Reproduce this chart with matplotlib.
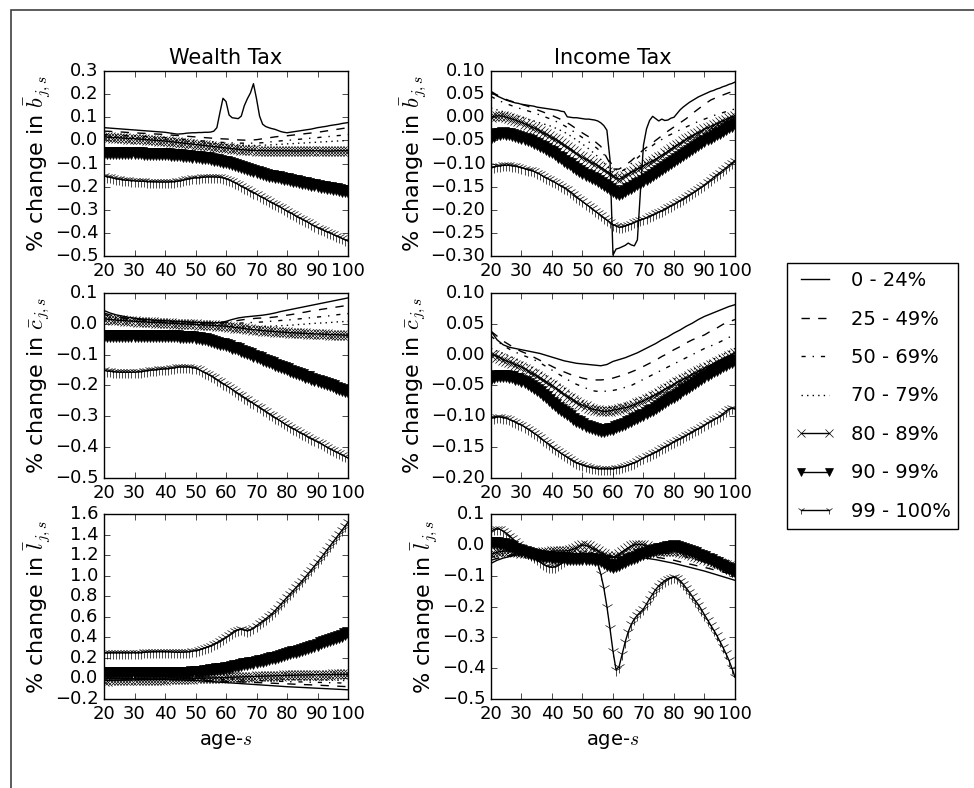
import numpy as np
import matplotlib
matplotlib.use("Agg")
import matplotlib.pyplot as plt
from matplotlib.patches import Rectangle
from matplotlib.lines import Line2D

plt.style.use("classic")

# ages: yearly for the marked series, every second year for the plain lines
ages = np.arange(20, 101)
ages_2 = np.arange(20, 101, 2)

labels = ["0 - 24%", "25 - 49%", "50 - 69%", "70 - 79%",
          "80 - 89%", "90 - 99%", "99 - 100%"]

# ---------------- wealth tax, savings b ----------------
wb_0 = [0.055, 0.054, 0.053, 0.052, 0.051, 0.050, 0.049, 0.048, 0.047, 0.046,
        0.045, 0.044, 0.043, 0.042, 0.041, 0.040, 0.039, 0.038, 0.037, 0.036,
        0.035, 0.033, 0.031, 0.029, 0.027, 0.028, 0.029, 0.031, 0.032, 0.033,
        0.033, 0.034, 0.034, 0.035, 0.035, 0.036, 0.040, 0.055, 0.120, 0.182,
        0.168, 0.110, 0.098, 0.096, 0.094, 0.105, 0.150, 0.180, 0.205, 0.245,
        0.180, 0.105, 0.070, 0.060, 0.055, 0.051, 0.048, 0.043, 0.038, 0.035,
        0.033, 0.035, 0.037, 0.039, 0.041, 0.043, 0.045, 0.047, 0.049, 0.052,
        0.055, 0.057, 0.059, 0.061, 0.064, 0.066, 0.068, 0.070, 0.073, 0.075, 0.077]
wb_25 = [0.040, 0.039, 0.037, 0.036, 0.034, 0.033, 0.031, 0.030, 0.028, 0.027,
         0.025, 0.023, 0.021, 0.019, 0.017, 0.015, 0.013, 0.011, 0.009, 0.007,
         0.006, 0.004, 0.002, 0.001, 0.001, 0.003, 0.007, 0.011, 0.015, 0.018,
         0.020, 0.023, 0.026, 0.029, 0.032, 0.035, 0.039, 0.043, 0.047, 0.051, 0.055]
wb_50 = [0.025, 0.024, 0.023, 0.022, 0.021, 0.020, 0.018, 0.017, 0.015, 0.014,
         0.012, 0.010, 0.007, 0.005, 0.002, 0.000, -0.002, -0.004, -0.006, -0.008,
         -0.010, -0.011, -0.012, -0.012, -0.012, -0.012, -0.010, -0.007, -0.005, -0.002,
         0.000, 0.002, 0.005, 0.007, 0.010, 0.012, 0.015, 0.017, 0.020, 0.022, 0.025]
wb_70 = [0.020, 0.018, 0.017, 0.015, 0.014, 0.012, 0.011, 0.009, 0.008, 0.006,
         0.005, 0.002, -0.001, -0.003, -0.006, -0.008, -0.010, -0.012, -0.014, -0.016,
         -0.018, -0.019, -0.020, -0.021, -0.022, -0.022, -0.021, -0.020, -0.018, -0.017,
         -0.015, -0.014, -0.012, -0.011, -0.009, -0.008, -0.006, -0.005, -0.003, -0.002, 0.000]
wb_80 = [0.015, 0.014, 0.013, 0.012, 0.012, 0.011, 0.010, 0.009, 0.008, 0.008,
         0.007, 0.006, 0.005, 0.004, 0.003, 0.002, 0.001, 0.000, -0.001, -0.002,
         -0.003, -0.004, -0.006, -0.007, -0.009, -0.010, -0.012, -0.013, -0.015, -0.016,
         -0.018, -0.019, -0.021, -0.022, -0.024, -0.025, -0.027, -0.028, -0.030, -0.031,
         -0.033, -0.034, -0.036, -0.037, -0.039, -0.040, -0.041, -0.042, -0.043, -0.043,
         -0.044, -0.044, -0.044, -0.045, -0.045, -0.045, -0.045, -0.045, -0.045, -0.045,
         -0.045, -0.045, -0.046, -0.046, -0.046, -0.045, -0.045, -0.045, -0.045, -0.045,
         -0.045, -0.045, -0.046, -0.046, -0.046, -0.046, -0.045, -0.045, -0.045, -0.045, -0.045]
wb_90 = [-0.053, -0.053, -0.053, -0.054, -0.054, -0.054, -0.054, -0.055, -0.055, -0.055,
         -0.055, -0.056, -0.056, -0.057, -0.057, -0.058, -0.058, -0.059, -0.059, -0.060,
         -0.060, -0.061, -0.062, -0.063, -0.064, -0.065, -0.066, -0.068, -0.069, -0.070,
         -0.072, -0.073, -0.075, -0.076, -0.078, -0.080, -0.083, -0.086, -0.089, -0.092,
         -0.095, -0.099, -0.103, -0.107, -0.111, -0.115, -0.120, -0.124, -0.129, -0.133,
         -0.138, -0.141, -0.145, -0.148, -0.152, -0.155, -0.158, -0.160, -0.163, -0.165,
         -0.168, -0.171, -0.174, -0.177, -0.180, -0.183, -0.186, -0.188, -0.191, -0.194,
         -0.197, -0.200, -0.202, -0.205, -0.207, -0.210, -0.212, -0.215, -0.217, -0.220, -0.222]
wb_99 = [-0.154, -0.157, -0.160, -0.163, -0.166, -0.168, -0.170, -0.172, -0.173, -0.174,
         -0.175, -0.176, -0.177, -0.177, -0.178, -0.178, -0.179, -0.179, -0.180, -0.180,
         -0.180, -0.180, -0.179, -0.178, -0.177, -0.175, -0.172, -0.169, -0.166, -0.164,
         -0.162, -0.161, -0.160, -0.159, -0.158, -0.158, -0.158, -0.159, -0.160, -0.162,
         -0.166, -0.171, -0.177, -0.183, -0.190, -0.197, -0.204, -0.211, -0.218, -0.226,
         -0.233, -0.240, -0.247, -0.254, -0.262, -0.269, -0.276, -0.283, -0.290, -0.298,
         -0.305, -0.312, -0.319, -0.327, -0.334, -0.341, -0.348, -0.355, -0.363, -0.370,
         -0.377, -0.383, -0.389, -0.395, -0.400, -0.406, -0.412, -0.418, -0.424, -0.429, -0.435]

# ---------------- income tax, savings b ----------------
ib_0 = [0.054, 0.050, 0.046, 0.043, 0.040, 0.037, 0.035, 0.033, 0.031, 0.030,
        0.028, 0.027, 0.026, 0.025, 0.024, 0.022, 0.021, 0.020, 0.019, 0.018,
        0.017, 0.016, 0.015, 0.013, 0.012, 0.001, 0.000, -0.001, -0.001, -0.002,
        -0.003, -0.004, -0.004, -0.005, -0.006, -0.008, -0.012, -0.018, -0.028, -0.090,
        -0.298, -0.285, -0.283, -0.280, -0.277, -0.272, -0.276, -0.278, -0.265, -0.160,
        -0.060, -0.025, -0.007, 0.002, -0.003, -0.008, -0.004, -0.007, -0.006, -0.002,
        0.000, 0.008, 0.016, 0.022, 0.027, 0.032, 0.036, 0.040, 0.044, 0.047,
        0.050, 0.053, 0.056, 0.058, 0.061, 0.063, 0.066, 0.068, 0.071, 0.073, 0.076]
ib_25 = [0.056, 0.048, 0.041, 0.036, 0.032, 0.028, 0.024, 0.019, 0.014, 0.009,
         0.004, -0.002, -0.008, -0.016, -0.025, -0.034, -0.042, -0.052, -0.063, -0.088,
         -0.112, -0.112, -0.104, -0.094, -0.082, -0.070, -0.060, -0.050, -0.040, -0.030,
         -0.021, -0.012, -0.003, 0.008, 0.018, 0.028, 0.037, 0.043, 0.048, 0.053, 0.057]
ib_50 = [0.045, 0.038, 0.032, 0.027, 0.022, 0.018, 0.014, 0.010, 0.005, 0.000,
         -0.005, -0.011, -0.018, -0.026, -0.035, -0.044, -0.053, -0.063, -0.074, -0.087,
         -0.105, -0.120, -0.112, -0.100, -0.088, -0.076, -0.066, -0.056, -0.048, -0.040,
         -0.034, -0.027, -0.021, -0.015, -0.009, -0.004, 0.001, 0.006, 0.010, 0.014, 0.018]
ib_70 = [0.020, 0.016, 0.012, 0.008, 0.004, 0.000, -0.004, -0.008, -0.012, -0.016,
         -0.020, -0.026, -0.032, -0.040, -0.049, -0.058, -0.068, -0.079, -0.091, -0.105,
         -0.120, -0.130, -0.124, -0.116, -0.108, -0.100, -0.092, -0.084, -0.076, -0.068,
         -0.060, -0.053, -0.046, -0.040, -0.034, -0.028, -0.022, -0.016, -0.010, -0.005, 0.000]
ib_80 = [0.000, 0.002, 0.003, 0.003, 0.002, 0.000, -0.002, -0.004, -0.006, -0.009,
         -0.011, -0.014, -0.017, -0.020, -0.023, -0.026, -0.030, -0.033, -0.037, -0.040,
         -0.044, -0.048, -0.052, -0.056, -0.061, -0.065, -0.069, -0.074, -0.078, -0.083,
         -0.087, -0.091, -0.094, -0.098, -0.101, -0.105, -0.109, -0.113, -0.118, -0.122,
         -0.127, -0.131, -0.134, -0.131, -0.127, -0.123, -0.119, -0.116, -0.112, -0.109,
         -0.105, -0.101, -0.098, -0.094, -0.091, -0.087, -0.083, -0.078, -0.074, -0.069,
         -0.065, -0.061, -0.057, -0.052, -0.048, -0.044, -0.040, -0.037, -0.033, -0.030,
         -0.026, -0.023, -0.020, -0.017, -0.014, -0.011, -0.008, -0.005, -0.002, 0.001, 0.003]
ib_90 = [-0.044, -0.040, -0.037, -0.036, -0.035, -0.036, -0.037, -0.038, -0.040, -0.042,
         -0.044, -0.047, -0.049, -0.052, -0.055, -0.058, -0.062, -0.065, -0.069, -0.072,
         -0.076, -0.080, -0.085, -0.089, -0.094, -0.098, -0.102, -0.107, -0.111, -0.116,
         -0.120, -0.124, -0.127, -0.131, -0.134, -0.138, -0.142, -0.147, -0.151, -0.156,
         -0.160, -0.163, -0.166, -0.163, -0.160, -0.156, -0.152, -0.149, -0.145, -0.142,
         -0.138, -0.134, -0.129, -0.125, -0.120, -0.116, -0.112, -0.107, -0.103, -0.098,
         -0.094, -0.090, -0.086, -0.081, -0.077, -0.073, -0.069, -0.064, -0.060, -0.055,
         -0.051, -0.047, -0.044, -0.040, -0.037, -0.033, -0.029, -0.026, -0.022, -0.019, -0.015]
ib_99 = [-0.109, -0.107, -0.106, -0.105, -0.104, -0.104, -0.104, -0.105, -0.106, -0.107,
         -0.109, -0.111, -0.113, -0.115, -0.117, -0.120, -0.123, -0.127, -0.131, -0.134,
         -0.138, -0.141, -0.145, -0.148, -0.152, -0.156, -0.161, -0.166, -0.172, -0.177,
         -0.182, -0.187, -0.192, -0.197, -0.202, -0.207, -0.212, -0.217, -0.222, -0.227,
         -0.232, -0.235, -0.238, -0.237, -0.235, -0.232, -0.230, -0.227, -0.225, -0.222,
         -0.220, -0.217, -0.214, -0.211, -0.208, -0.205, -0.202, -0.198, -0.195, -0.191,
         -0.188, -0.184, -0.180, -0.176, -0.172, -0.168, -0.164, -0.160, -0.155, -0.151,
         -0.146, -0.141, -0.136, -0.130, -0.125, -0.120, -0.115, -0.110, -0.104, -0.099, -0.094]

# ---------------- wealth tax, consumption c ----------------
cw_0 = [0.043, 0.035, 0.029, 0.025, 0.021, 0.018, 0.016, 0.014, 0.012, 0.011,
        0.010, 0.009, 0.008, 0.007, 0.006, 0.005, 0.004, 0.003, 0.003, 0.004,
        0.008, 0.014, 0.019, 0.022, 0.024, 0.026, 0.028, 0.031, 0.035, 0.040,
        0.044, 0.048, 0.052, 0.056, 0.060, 0.064, 0.068, 0.072, 0.076, 0.080, 0.084]
cw_25 = [0.035, 0.029, 0.024, 0.020, 0.017, 0.015, 0.013, 0.012, 0.010, 0.009,
         0.008, 0.007, 0.006, 0.005, 0.004, 0.003, 0.003, 0.003, 0.003, 0.004,
         0.005, 0.008, 0.011, 0.014, 0.016, 0.018, 0.019, 0.020, 0.022, 0.025,
         0.028, 0.031, 0.035, 0.038, 0.042, 0.045, 0.048, 0.051, 0.054, 0.057, 0.060]
cw_50 = [0.030, 0.025, 0.021, 0.017, 0.014, 0.012, 0.010, 0.009, 0.007, 0.006,
         0.005, 0.004, 0.003, 0.002, 0.001, 0.000, 0.000, 0.000, 0.000, 0.000,
         0.000, 0.001, 0.002, 0.003, 0.004, 0.005, 0.006, 0.008, 0.009, 0.011,
         0.012, 0.014, 0.016, 0.018, 0.020, 0.022, 0.024, 0.026, 0.029, 0.031, 0.033]
cw_70 = [0.025, 0.021, 0.017, 0.014, 0.012, 0.010, 0.008, 0.006, 0.004, 0.003,
         0.002, 0.001, 0.000, -0.001, -0.002, -0.003, -0.004, -0.005, -0.006, -0.007,
         -0.008, -0.009, -0.009, -0.010, -0.010, -0.010, -0.009, -0.008, -0.007, -0.006,
         -0.005, -0.004, -0.002, -0.001, 0.001, 0.002, 0.003, 0.004, 0.006, 0.007, 0.008]
cw_80 = [0.016, 0.015, 0.014, 0.013, 0.012, 0.011, 0.011, 0.010, 0.009, 0.009,
         0.008, 0.007, 0.007, 0.006, 0.006, 0.005, 0.005, 0.004, 0.004, 0.003,
         0.003, 0.002, 0.002, 0.001, 0.001, 0.000, 0.000, -0.001, -0.001, -0.002,
         -0.002, -0.003, -0.003, -0.004, -0.004, -0.005, -0.005, -0.006, -0.007, -0.007,
         -0.008, -0.009, -0.010, -0.012, -0.013, -0.014, -0.015, -0.017, -0.018, -0.019,
         -0.020, -0.021, -0.022, -0.023, -0.024, -0.024, -0.025, -0.026, -0.027, -0.027,
         -0.028, -0.029, -0.029, -0.030, -0.030, -0.031, -0.031, -0.032, -0.032, -0.033,
         -0.033, -0.033, -0.034, -0.034, -0.035, -0.035, -0.035, -0.036, -0.036, -0.037, -0.037]
cw_90 = [-0.040, -0.040, -0.039, -0.039, -0.039, -0.039, -0.039, -0.039, -0.040, -0.040,
         -0.040, -0.040, -0.040, -0.040, -0.040, -0.040, -0.040, -0.040, -0.040, -0.040,
         -0.040, -0.040, -0.041, -0.041, -0.041, -0.042, -0.042, -0.043, -0.043, -0.044,
         -0.045, -0.046, -0.048, -0.050, -0.052, -0.055, -0.058, -0.061, -0.064, -0.067,
         -0.070, -0.073, -0.077, -0.080, -0.083, -0.087, -0.091, -0.095, -0.099, -0.104,
         -0.108, -0.112, -0.116, -0.120, -0.124, -0.128, -0.132, -0.136, -0.140, -0.144,
         -0.148, -0.152, -0.156, -0.160, -0.163, -0.167, -0.171, -0.174, -0.178, -0.181,
         -0.185, -0.189, -0.192, -0.196, -0.199, -0.203, -0.207, -0.211, -0.215, -0.218, -0.222]
cw_99 = [-0.151, -0.153, -0.154, -0.155, -0.156, -0.157, -0.157, -0.157, -0.157, -0.157,
         -0.157, -0.156, -0.155, -0.154, -0.152, -0.151, -0.150, -0.149, -0.148, -0.147,
         -0.146, -0.145, -0.144, -0.143, -0.141, -0.140, -0.140, -0.140, -0.140, -0.142,
         -0.144, -0.148, -0.153, -0.158, -0.163, -0.168, -0.174, -0.181, -0.187, -0.194,
         -0.200, -0.206, -0.213, -0.219, -0.226, -0.232, -0.239, -0.245, -0.252, -0.258,
         -0.265, -0.271, -0.278, -0.284, -0.291, -0.297, -0.304, -0.310, -0.316, -0.323,
         -0.329, -0.334, -0.340, -0.345, -0.351, -0.356, -0.361, -0.367, -0.372, -0.378,
         -0.383, -0.388, -0.394, -0.399, -0.405, -0.410, -0.415, -0.420, -0.425, -0.430, -0.435]

# ---------------- income tax, consumption c ----------------
ci_0 = [0.038, 0.024, 0.016, 0.012, 0.010, 0.008, 0.006, 0.004, 0.002, -0.001,
        -0.004, -0.007, -0.010, -0.012, -0.014, -0.015, -0.016, -0.017, -0.018, -0.016,
        -0.011, -0.008, -0.005, -0.001, 0.003, 0.008, 0.013, 0.018, 0.024, 0.029,
        0.035, 0.040, 0.046, 0.051, 0.057, 0.062, 0.066, 0.070, 0.074, 0.078, 0.081]
ci_25 = [0.038, 0.030, 0.022, 0.016, 0.010, 0.005, 0.001, -0.004, -0.009, -0.014,
         -0.019, -0.024, -0.028, -0.032, -0.035, -0.038, -0.040, -0.041, -0.041, -0.040,
         -0.038, -0.035, -0.032, -0.028, -0.024, -0.019, -0.014, -0.009, -0.003, 0.002,
         0.008, 0.013, 0.019, 0.024, 0.028, 0.032, 0.038, 0.043, 0.049, 0.053, 0.057]
ci_50 = [0.030, 0.022, 0.015, 0.009, 0.004, 0.000, -0.004, -0.008, -0.013, -0.019,
         -0.025, -0.031, -0.037, -0.043, -0.048, -0.052, -0.056, -0.059, -0.060, -0.059,
         -0.058, -0.056, -0.053, -0.050, -0.045, -0.040, -0.035, -0.030, -0.025, -0.020,
         -0.015, -0.010, -0.005, 0.000, 0.005, 0.010, 0.014, 0.018, 0.023, 0.028, 0.032]
ci_70 = [0.010, 0.006, 0.002, -0.002, -0.007, -0.012, -0.017, -0.022, -0.028, -0.034,
         -0.040, -0.047, -0.054, -0.062, -0.069, -0.075, -0.080, -0.084, -0.086, -0.086,
         -0.085, -0.082, -0.079, -0.076, -0.072, -0.068, -0.063, -0.058, -0.052, -0.046,
         -0.040, -0.035, -0.030, -0.025, -0.020, -0.015, -0.010, -0.005, 0.000, 0.005, 0.010]
ci_80 = [0.000, -0.001, -0.003, -0.005, -0.008, -0.010, -0.012, -0.014, -0.016, -0.018,
         -0.020, -0.023, -0.026, -0.029, -0.032, -0.035, -0.038, -0.041, -0.044, -0.047,
         -0.050, -0.054, -0.057, -0.061, -0.064, -0.068, -0.071, -0.074, -0.077, -0.080,
         -0.082, -0.084, -0.086, -0.088, -0.089, -0.090, -0.091, -0.092, -0.092, -0.091,
         -0.090, -0.089, -0.088, -0.087, -0.086, -0.085, -0.083, -0.081, -0.079, -0.077,
         -0.075, -0.072, -0.070, -0.067, -0.065, -0.062, -0.059, -0.056, -0.054, -0.051,
         -0.048, -0.045, -0.043, -0.040, -0.038, -0.035, -0.032, -0.030, -0.027, -0.025,
         -0.022, -0.020, -0.017, -0.015, -0.012, -0.010, -0.007, -0.005, -0.002, 0.000, 0.003]
ci_90 = [-0.039, -0.037, -0.035, -0.034, -0.034, -0.035, -0.036, -0.037, -0.039, -0.040,
         -0.042, -0.045, -0.048, -0.051, -0.054, -0.057, -0.061, -0.065, -0.069, -0.074,
         -0.078, -0.082, -0.086, -0.090, -0.093, -0.097, -0.100, -0.104, -0.107, -0.110,
         -0.113, -0.115, -0.117, -0.119, -0.121, -0.122, -0.123, -0.123, -0.122, -0.121,
         -0.120, -0.118, -0.116, -0.114, -0.112, -0.110, -0.108, -0.105, -0.103, -0.100,
         -0.098, -0.095, -0.092, -0.089, -0.086, -0.083, -0.080, -0.077, -0.074, -0.071,
         -0.068, -0.065, -0.062, -0.058, -0.055, -0.052, -0.049, -0.046, -0.042, -0.039,
         -0.036, -0.033, -0.030, -0.027, -0.025, -0.022, -0.019, -0.017, -0.014, -0.012, -0.010]
ci_99 = [-0.103, -0.102, -0.101, -0.101, -0.102, -0.103, -0.105, -0.107, -0.109, -0.112,
         -0.114, -0.117, -0.120, -0.123, -0.127, -0.130, -0.134, -0.138, -0.142, -0.145,
         -0.149, -0.153, -0.156, -0.160, -0.163, -0.166, -0.169, -0.172, -0.175, -0.177,
         -0.179, -0.181, -0.182, -0.183, -0.184, -0.185, -0.185, -0.185, -0.185, -0.185,
         -0.185, -0.184, -0.183, -0.182, -0.181, -0.179, -0.177, -0.175, -0.173, -0.170,
         -0.168, -0.165, -0.163, -0.160, -0.158, -0.155, -0.152, -0.149, -0.147, -0.144,
         -0.141, -0.138, -0.136, -0.133, -0.131, -0.128, -0.125, -0.122, -0.120, -0.117,
         -0.114, -0.111, -0.108, -0.105, -0.103, -0.100, -0.096, -0.092, -0.088, -0.087, -0.088]

# ---------------- wealth tax, labor l ----------------
lw_0 = [0.000, 0.000, -0.001, -0.002, -0.003, -0.004, -0.005, -0.006, -0.007, -0.008,
        -0.010, -0.012, -0.014, -0.016, -0.018, -0.020, -0.024, -0.028, -0.032, -0.036,
        -0.040, -0.044, -0.048, -0.052, -0.056, -0.060, -0.064, -0.068, -0.072, -0.076,
        -0.080, -0.083, -0.086, -0.089, -0.092, -0.095, -0.098, -0.101, -0.104, -0.107, -0.110]
lw_25 = [0.000, -0.001, -0.002, -0.003, -0.004, -0.005, -0.006, -0.007, -0.008, -0.009,
         -0.010, -0.011, -0.012, -0.013, -0.014, -0.015, -0.017, -0.020, -0.022, -0.025,
         -0.027, -0.030, -0.032, -0.035, -0.037, -0.040, -0.042, -0.045, -0.047, -0.050,
         -0.052, -0.055, -0.057, -0.060, -0.062, -0.065, -0.068, -0.071, -0.074, -0.077, -0.080]
lw_50 = [0.000, 0.000, 0.000, 0.000, -0.001, -0.001, -0.001, -0.002, -0.002, -0.002,
         -0.003, -0.003, -0.004, -0.004, -0.005, -0.005, -0.006, -0.007, -0.008, -0.009,
         -0.010, -0.012, -0.014, -0.016, -0.018, -0.020, -0.022, -0.024, -0.026, -0.028,
         -0.030, -0.032, -0.033, -0.035, -0.036, -0.038, -0.039, -0.041, -0.042, -0.044, -0.045]
lw_70 = [0.000, 0.000, 0.000, 0.000, 0.000, 0.000, 0.000, 0.000, 0.000, 0.000,
         0.000, 0.000, 0.000, 0.000, 0.000, 0.000, 0.000, 0.000, 0.000, 0.000,
         0.000, -0.001, -0.002, -0.003, -0.004, -0.005, -0.006, -0.007, -0.008, -0.009,
         -0.010, -0.011, -0.012, -0.013, -0.014, -0.015, -0.016, -0.017, -0.018, -0.019, -0.020]
lw_80 = [-0.020, -0.020, -0.019, -0.019, -0.018, -0.018, -0.017, -0.017, -0.016, -0.016,
         -0.015, -0.015, -0.014, -0.014, -0.013, -0.013, -0.012, -0.012, -0.011, -0.011,
         -0.010, -0.009, -0.008, -0.007, -0.006, -0.005, -0.004, -0.003, -0.002, -0.001,
         0.000, 0.001, 0.002, 0.003, 0.004, 0.005, 0.006, 0.007, 0.008, 0.009,
         0.010, 0.011, 0.012, 0.013, 0.014, 0.015, 0.016, 0.017, 0.018, 0.019,
         0.020, 0.021, 0.022, 0.023, 0.024, 0.025, 0.026, 0.027, 0.028, 0.029,
         0.030, 0.031, 0.031, 0.032, 0.033, 0.034, 0.034, 0.035, 0.036, 0.036,
         0.037, 0.037, 0.038, 0.038, 0.038, 0.039, 0.039, 0.039, 0.040, 0.040, 0.040]
lw_90 = [0.050, 0.050, 0.050, 0.050, 0.050, 0.050, 0.050, 0.050, 0.050, 0.050,
         0.050, 0.050, 0.050, 0.050, 0.050, 0.050, 0.050, 0.050, 0.050, 0.050,
         0.050, 0.051, 0.052, 0.053, 0.054, 0.055, 0.056, 0.057, 0.058, 0.059,
         0.060, 0.063, 0.066, 0.070, 0.075, 0.080, 0.084, 0.088, 0.092, 0.096,
         0.100, 0.106, 0.112, 0.118, 0.124, 0.130, 0.136, 0.142, 0.148, 0.154,
         0.160, 0.167, 0.174, 0.181, 0.188, 0.195, 0.203, 0.211, 0.219, 0.227,
         0.235, 0.244, 0.253, 0.262, 0.271, 0.280, 0.290, 0.300, 0.310, 0.320,
         0.330, 0.341, 0.352, 0.363, 0.374, 0.385, 0.396, 0.407, 0.418, 0.429, 0.440]
lw_99 = [0.248, 0.249, 0.250, 0.250, 0.250, 0.250, 0.250, 0.250, 0.250, 0.250,
         0.250, 0.251, 0.252, 0.254, 0.256, 0.258, 0.260, 0.261, 0.262, 0.262,
         0.261, 0.260, 0.258, 0.256, 0.255, 0.255, 0.256, 0.258, 0.261, 0.265,
         0.270, 0.278, 0.287, 0.297, 0.308, 0.320, 0.334, 0.349, 0.366, 0.384,
         0.402, 0.420, 0.445, 0.465, 0.475, 0.478, 0.470, 0.466, 0.475, 0.492,
         0.514, 0.535, 0.557, 0.580, 0.604, 0.628, 0.658, 0.690, 0.723, 0.756,
         0.790, 0.822, 0.854, 0.886, 0.919, 0.952, 0.987, 1.022, 1.058, 1.094,
         1.130, 1.168, 1.207, 1.246, 1.285, 1.324, 1.363, 1.402, 1.441, 1.480, 1.520]

# ---------------- income tax, labor l ----------------
li_0 = [-0.060, -0.050, -0.043, -0.038, -0.034, -0.031, -0.030, -0.030, -0.030, -0.030,
        -0.030, -0.031, -0.032, -0.033, -0.034, -0.035, -0.036, -0.037, -0.038, -0.039,
        -0.040, -0.040, -0.040, -0.040, -0.041, -0.042, -0.045, -0.048, -0.052, -0.056,
        -0.060, -0.065, -0.070, -0.075, -0.080, -0.085, -0.091, -0.097, -0.103, -0.109, -0.115]
li_25 = [-0.050, -0.044, -0.039, -0.035, -0.032, -0.030, -0.030, -0.030, -0.030, -0.030,
         -0.030, -0.030, -0.030, -0.030, -0.030, -0.030, -0.032, -0.034, -0.036, -0.038,
         -0.040, -0.040, -0.038, -0.036, -0.035, -0.035, -0.037, -0.040, -0.043, -0.046,
         -0.050, -0.055, -0.060, -0.064, -0.069, -0.073, -0.078, -0.083, -0.088, -0.092, -0.097]
li_50 = [-0.040, -0.037, -0.035, -0.033, -0.031, -0.030, -0.030, -0.030, -0.030, -0.030,
         -0.030, -0.029, -0.028, -0.027, -0.026, -0.025, -0.027, -0.029, -0.031, -0.033,
         -0.035, -0.034, -0.031, -0.028, -0.026, -0.025, -0.025, -0.026, -0.027, -0.028,
         -0.030, -0.035, -0.040, -0.045, -0.050, -0.055, -0.060, -0.065, -0.070, -0.075, -0.080]
li_70 = [-0.030, -0.029, -0.028, -0.027, -0.026, -0.025, -0.025, -0.025, -0.025, -0.025,
         -0.025, -0.024, -0.023, -0.022, -0.021, -0.020, -0.023, -0.028, -0.033, -0.038,
         -0.040, -0.035, -0.028, -0.021, -0.017, -0.015, -0.015, -0.015, -0.015, -0.015,
         -0.015, -0.019, -0.024, -0.029, -0.034, -0.040, -0.046, -0.052, -0.058, -0.064, -0.070]
li_80 = [-0.030, -0.027, -0.024, -0.022, -0.021, -0.020, -0.021, -0.022, -0.023, -0.024,
         -0.025, -0.025, -0.026, -0.026, -0.026, -0.025, -0.025, -0.024, -0.023, -0.022,
         -0.020, -0.020, -0.020, -0.020, -0.020, -0.019, -0.017, -0.014, -0.010, -0.005,
         0.000, -0.002, -0.005, -0.010, -0.015, -0.020, -0.025, -0.030, -0.035, -0.038,
         -0.040, -0.036, -0.030, -0.023, -0.016, -0.010, -0.005, 0.000, 0.001, 0.001,
         0.000, -0.004, -0.010, -0.014, -0.017, -0.020, -0.020, -0.020, -0.020, -0.020,
         -0.020, -0.021, -0.023, -0.025, -0.027, -0.030, -0.033, -0.036, -0.039, -0.042,
         -0.045, -0.048, -0.051, -0.054, -0.057, -0.060, -0.063, -0.066, -0.069, -0.072, -0.075]
li_90 = [0.007, 0.006, 0.005, 0.004, 0.002, 0.000, -0.004, -0.008, -0.012, -0.016,
         -0.020, -0.023, -0.026, -0.029, -0.032, -0.035, -0.037, -0.039, -0.040, -0.041,
         -0.042, -0.043, -0.043, -0.044, -0.044, -0.045, -0.045, -0.045, -0.045, -0.045,
         -0.045, -0.045, -0.046, -0.047, -0.048, -0.050, -0.053, -0.058, -0.065, -0.069,
         -0.072, -0.070, -0.065, -0.060, -0.055, -0.050, -0.046, -0.042, -0.038, -0.034,
         -0.030, -0.027, -0.024, -0.021, -0.018, -0.015, -0.012, -0.010, -0.008, -0.006,
         -0.005, -0.006, -0.009, -0.012, -0.016, -0.020, -0.024, -0.028, -0.032, -0.036,
         -0.040, -0.045, -0.050, -0.055, -0.060, -0.065, -0.070, -0.074, -0.079, -0.084, -0.088]
li_99 = [0.042, 0.050, 0.052, 0.050, 0.045, 0.038, 0.030, 0.021, 0.012, 0.002,
         -0.008, -0.017, -0.025, -0.033, -0.040, -0.047, -0.054, -0.061, -0.067, -0.071,
         -0.073, -0.071, -0.066, -0.060, -0.053, -0.046, -0.040, -0.035, -0.031, -0.029,
         -0.028, -0.029, -0.031, -0.035, -0.042, -0.060, -0.095, -0.140, -0.200, -0.270,
         -0.345, -0.405, -0.395, -0.355, -0.315, -0.282, -0.258, -0.240, -0.228, -0.218,
         -0.208, -0.192, -0.175, -0.160, -0.145, -0.133, -0.124, -0.116, -0.110, -0.106,
         -0.105, -0.108, -0.116, -0.127, -0.140, -0.153, -0.167, -0.181, -0.194, -0.210,
         -0.227, -0.243, -0.260, -0.276, -0.293, -0.312, -0.331, -0.352, -0.374, -0.400, -0.429]

line_styles = ["-", "--", "-.", ":", "-", "-", "-"]
markers = ["", "", "", "", "x", "v", "1"]
# markers drawn a bit larger in the panels than in the legend key
plot_msize = [6, 6, 6, 6, 7, 9, 9]

panels = [
    # title, ylabel, series, ylim, number of y ticks, axes position, ylabel x
    ("Wealth Tax", r"% change in $\bar{b}_{j,s}$",
     [wb_0, wb_25, wb_50, wb_70, wb_80, wb_90, wb_99], (-0.5, 0.3), 9,
     [0.1068, 0.6751], -0.215),
    ("Income Tax", r"% change in $\bar{b}_{j,s}$",
     [ib_0, ib_25, ib_50, ib_70, ib_80, ib_90, ib_99], (-0.30, 0.10), 9,
     [0.5041, 0.6751], -0.26),
    ("", r"% change in $\bar{c}_{j,s}$",
     [cw_0, cw_25, cw_50, cw_70, cw_80, cw_90, cw_99], (-0.5, 0.1), 7,
     [0.1068, 0.3934], -0.215),
    ("", r"% change in $\bar{c}_{j,s}$",
     [ci_0, ci_25, ci_50, ci_70, ci_80, ci_90, ci_99], (-0.20, 0.10), 7,
     [0.5041, 0.3934], -0.26),
    ("", r"% change in $\bar{l}_{j,s}$",
     [lw_0, lw_25, lw_50, lw_70, lw_80, lw_90, lw_99], (-0.2, 1.6), 10,
     [0.1068, 0.1129], -0.215),
    ("", r"% change in $\bar{l}_{j,s}$",
     [li_0, li_25, li_50, li_70, li_80, li_90, li_99], (-0.5, 0.1), 7,
     [0.5041, 0.1129], -0.215),
]

fig = plt.figure(figsize=(9.74, 7.88), dpi=100)
fig.patch.set_facecolor("white")

for i, (title, ylab, series, ylim, nticks, pos, ylab_x) in enumerate(panels):
    ax = fig.add_axes([pos[0], pos[1], 0.2505, 0.2348])
    for k, vals in enumerate(series):
        x = ages if len(vals) == len(ages) else ages_2
        ax.plot(x, vals, color="k", linestyle=line_styles[k],
                marker=markers[k] if markers[k] else None,
                markersize=plot_msize[k])
    ax.set_xlim(20, 100)
    ax.set_ylim(*ylim)
    ax.set_xticks(np.arange(20, 101, 10))
    ax.set_yticks(np.round(np.linspace(ylim[0], ylim[1], nticks), 2) + 0.0)
    ax.tick_params(labelsize=13)
    if title:
        ax.set_title(title, fontsize=15)
    ax.set_ylabel(ylab, fontsize=16)
    ax.yaxis.set_label_coords(ylab_x, 0.5)
    if i >= 4:
        ax.set_xlabel(r"age-$s$", fontsize=14)
        ax.xaxis.set_label_coords(0.5, -0.18)

handles = [Line2D([], [], color="k", linestyle=line_styles[k],
                  marker=markers[k] if markers[k] else None, markersize=6)
           for k in range(len(labels))]
fig.legend(handles, labels, loc="center left", bbox_to_anchor=(787 / 974, 0.4975),
           fontsize=14, numpoints=2, handlelength=2.07, handletextpad=0.8,
           labelspacing=1.0, borderpad=0.4, borderaxespad=0.0,
           fancybox=False, shadow=False, frameon=True)

# outer frame (top and left edges visible)
fig.add_artist(Rectangle((10.5 / 974, -0.05), 1.2, 1.05 - 10 / 788,
                         transform=fig.transFigure, fill=False,
                         edgecolor="0.25", linewidth=1.2, clip_on=False))

fig.savefig("out.png", dpi=100, facecolor="white")
